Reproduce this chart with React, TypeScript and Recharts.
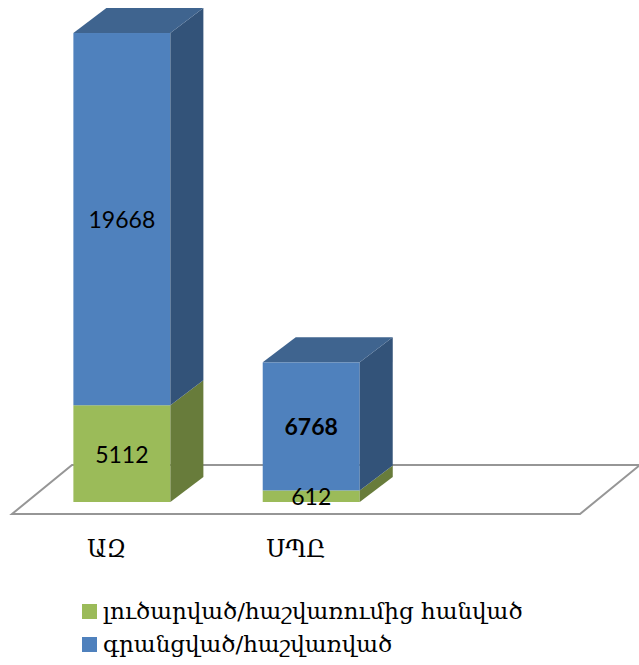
import React from "react";
import { BarChart, Bar, XAxis, YAxis, Legend, LabelList, usePlotArea } from "recharts";

const categories = ["ԱԶ", "ՍՊԸ", ""];
const liquidated = [5112, 612, null];
const registered = [19668, 6768, null];
const seriesNames = ["լուծարված/հաշվառումից հանված", "գրանցված/հաշվառված"];
const colors = ["#9BBB59", "#4F81BD"];

const rows = categories.map((name, i) => ({ name, liquidated: liquidated[i], registered: registered[i] }));

const SHIFT_X = 15;
const SHIFT_Y = -12;
const DEPTH_X = 33;
const DEPTH_Y = -25;
const LABEL_FONT = "Lato, 'Open Sans', sans-serif";
const ARMENIAN_FONT = "'DejaVu Serif', serif";

function Floor() {
  const plot = usePlotArea();
  if (!plot) return null;
  const bottom = plot.y + plot.height;
  const left = plot.x;
  const right = plot.x + plot.width;
  const points = `${left},${bottom} ${right},${bottom} ${right + 60},${bottom - 49} ${left + 60},${bottom - 49}`;
  return <polygon points={points} fill="#fff" stroke="#969696" strokeWidth={2} />;
}

function Block3D(props: any) {
  const { x, y, width, height, fill, sideFill, topFill } = props;
  if (!height) return null;
  const l = x + SHIFT_X;
  const t = y + SHIFT_Y;
  const r = l + width;
  const b = t + height;
  return (
    <g>
      <rect x={l} y={t} width={width} height={height} fill={fill} />
      <polygon
        points={`${r},${t} ${r + DEPTH_X},${t + DEPTH_Y} ${r + DEPTH_X},${b + DEPTH_Y} ${r},${b}`}
        fill={sideFill}
      />
      {topFill ? (
        <polygon
          points={`${l},${t} ${l + DEPTH_X},${t + DEPTH_Y} ${r + DEPTH_X},${t + DEPTH_Y} ${r},${t}`}
          fill={topFill}
        />
      ) : null}
    </g>
  );
}

function ValueLabel(props: any) {
  const { x, y, width, height, value } = props;
  if (value == null) return null;
  return (
    <text
      x={x + SHIFT_X + width / 2}
      y={y + SHIFT_Y + height / 2}
      textAnchor="middle"
      dominantBaseline="central"
      fontFamily={LABEL_FONT}
      fontSize={23}
      fontWeight={value === 6768 ? 700 : 400}
      fill="#000"
    >
      {value}
    </text>
  );
}

function CategoryTick(props: any) {
  const { x, y, payload } = props;
  return (
    <text x={x} y={y} textAnchor="middle" dominantBaseline="central" fontFamily={ARMENIAN_FONT} fontSize={24} fill="#000">
      {payload.value}
    </text>
  );
}

function LegendBox(props: any) {
  const items = props.payload || [];
  return (
    <div style={{ fontFamily: ARMENIAN_FONT, fontSize: 23, color: "#000", lineHeight: "33px" }}>
      {items.map((it: any) => (
        <div key={it.value} style={{ display: "flex", alignItems: "center", whiteSpace: "nowrap" }}>
          <span style={{ width: 15, height: 15, background: it.color, marginRight: 6, flex: "none" }} />
          {it.value}
        </div>
      ))}
    </div>
  );
}

export default function App() {
  return (
    <div style={{ position: "absolute", left: 0, top: 0, width: 639, height: 665, overflow: "hidden" }}>
      <BarChart width={639} height={665} data={rows} margin={{ top: 3, right: 59, bottom: 55, left: 12 }} barCategoryGap="24.5%">
        <Floor />
        <XAxis dataKey="name" axisLine={false} tickLine={false} tick={<CategoryTick />} tickMargin={29} />
        <YAxis hide domain={[0, 27000]} />
        <Bar
          dataKey="liquidated"
          name={seriesNames[0]}
          stackId="a"
          fill={colors[0]}
          isAnimationActive={false}
          shape={(p: any) => <Block3D {...p} fill={colors[0]} sideFill="#687C3B" />}
        >
          <LabelList dataKey="liquidated" content={<ValueLabel />} />
        </Bar>
        <Bar
          dataKey="registered"
          name={seriesNames[1]}
          stackId="a"
          fill={colors[1]}
          isAnimationActive={false}
          shape={(p: any) => <Block3D {...p} fill={colors[1]} sideFill="#335379" topFill="#3F648F" />}
        >
          <LabelList dataKey="registered" content={<ValueLabel />} />
        </Bar>
        <Legend
          content={<LegendBox />}
          layout="vertical"
          itemSorter={null}
          wrapperStyle={{ position: "absolute", left: 82, top: 595, width: 540, bottom: "auto" }}
        />
      </BarChart>
    </div>
  );
}
